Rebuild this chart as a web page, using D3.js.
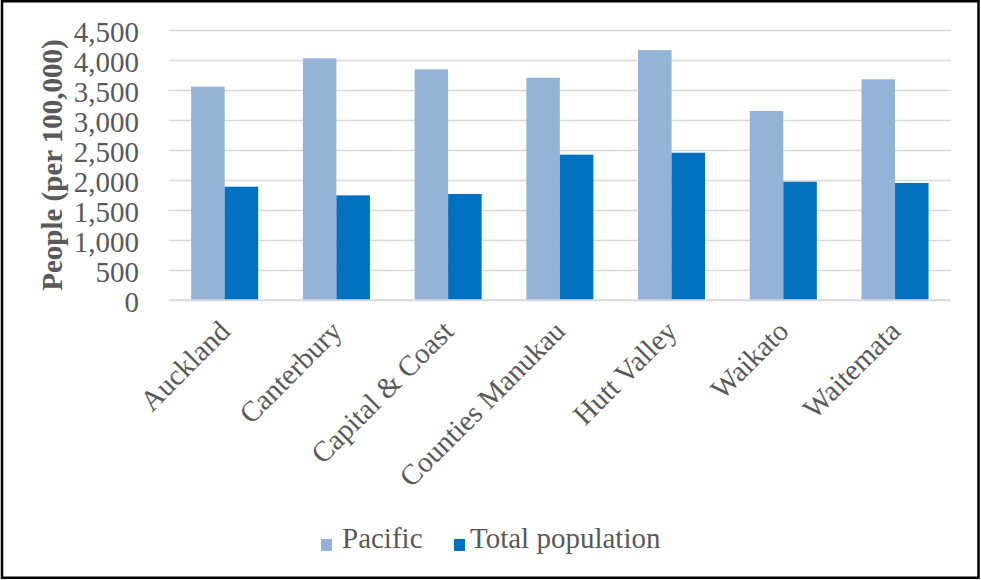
<!DOCTYPE html>
<html>
<head>
<meta charset="utf-8">
<script src="https://cdn.jsdelivr.net/npm/d3@7"></script>
<style>
  html, body { margin: 0; padding: 0; background: #fff; }
  svg { display: block; }
  text { font-family: "Liberation Serif", "Times New Roman", serif; fill: #595959; }
</style>
</head>
<body>
<svg id="chart" width="981" height="580" font-family="Liberation Serif, Times New Roman, serif"></svg>
<script>
// District health boards and rates per 100,000 people
const categories = ["Auckland", "Canterbury", "Capital & Coast", "Counties Manukau", "Hutt Valley", "Waikato", "Waitemata"];
const seriesNames = ["Pacific", "Total population"];
const pacificValues = [3555, 4028, 3845, 3705, 4165, 3150, 3678];
const totalValues = [1888, 1744, 1767, 2422, 2455, 1972, 1950];
const yTicks = [0, 500, 1000, 1500, 2000, 2500, 3000, 3500, 4000, 4500];
const colors = ["#95B3D7", "#0070C0"];

const rows = categories.map((c, i) => ({ category: c, values: [pacificValues[i], totalValues[i]] }));

const svg = d3.select("#chart");
const W = 981, H = 580;
const plot = { left: 168.8, right: 950.9, top: 30, bottom: 300 };
const fontSize = 29;

// outer frame
svg.append("rect")
  .attr("x", 2).attr("y", 1.25)
  .attr("width", W - 4.5).attr("height", H - 3.5)
  .attr("fill", "#fff").attr("stroke", "#000").attr("stroke-width", 2.5);

const y = d3.scaleLinear().domain([0, 4500]).range([plot.bottom, plot.top]);
const x0 = d3.scaleBand().domain(categories).range([plot.left, plot.right])
  .paddingInner(0.4).paddingOuter(0.2);
const x1 = d3.scaleBand().domain(seriesNames).range([0, x0.bandwidth()]);

// gridlines
const grid = svg.append("g")
  .attr("transform", `translate(${plot.left},0)`)
  .call(d3.axisLeft(y).tickValues(yTicks).tickSize(-(plot.right - plot.left)).tickFormat(""));
grid.select(".domain").remove();
grid.selectAll(".tick line").attr("stroke", "#D9D9D9").attr("stroke-width", 1.5);

// bars
const groups = svg.append("g").selectAll("g")
  .data(rows).join("g")
  .attr("transform", d => `translate(${x0(d.category)},0)`);
groups.selectAll("rect")
  .data(d => d.values.map((v, i) => ({ key: seriesNames[i], value: v, idx: i })))
  .join("rect")
  .attr("x", d => x1(d.key))
  .attr("y", d => y(d.value))
  .attr("width", x1.bandwidth())
  .attr("height", d => y(0) - y(d.value))
  .attr("fill", d => colors[d.idx]);

// category axis line
svg.append("line")
  .attr("x1", plot.left).attr("x2", plot.right)
  .attr("y1", y(0)).attr("y2", y(0))
  .attr("stroke", "#D9D9D9").attr("stroke-width", 1.5);

// y tick labels
svg.append("g").selectAll("text")
  .data(yTicks).join("text")
  .attr("x", 139)
  .attr("y", d => y(d) + 11.5)
  .attr("text-anchor", "end")
  .attr("font-size", fontSize)
  .text(d3.format(","));

// y axis title
svg.append("text")
  .attr("transform", `translate(62,${(plot.top + plot.bottom) / 2})rotate(-90)`)
  .attr("text-anchor", "middle")
  .attr("font-size", fontSize)
  .attr("font-weight", "bold")
  .text("People (per 100,000)");

// category labels
svg.append("g").selectAll("text")
  .data(categories).join("text")
  .attr("transform", d => `translate(${x0(d) + x0.bandwidth() / 2 + 7},${plot.bottom + 33})rotate(-45)`)
  .attr("text-anchor", "end")
  .attr("font-size", fontSize)
  .text(d => d);

// legend
const legendItems = [
  { name: seriesNames[0], color: colors[0], sx: 321, tx: 342 },
  { name: seriesNames[1], color: colors[1], sx: 454, tx: 470 }
];
const legend = svg.append("g");
legend.selectAll("rect").data(legendItems).join("rect")
  .attr("x", d => d.sx).attr("y", 539)
  .attr("width", 11).attr("height", 12)
  .attr("fill", d => d.color);
legend.selectAll("text").data(legendItems).join("text")
  .attr("x", d => d.tx).attr("y", 548)
  .attr("font-size", fontSize)
  .text(d => d.name);
</script>
</body>
</html>
